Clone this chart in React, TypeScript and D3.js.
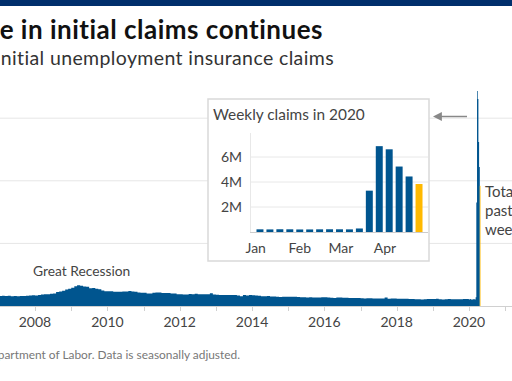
import React from "react";
import * as d3 from "d3";

// Monthly average initial claims (thousands), Jan 2007 – Dec 2019
const monthlyStart = "2007-01-01";
const monthlyClaims = [
  // 2007
  320, 330, 322, 325, 312, 318, 310, 322, 318, 330, 338, 345,
  // 2008
  335, 352, 368, 372, 372, 390, 398, 445, 465, 485, 525, 555,
  // 2009
  585, 632, 660, 645, 625, 612, 568, 572, 548, 532, 498, 475,
  // 2010
  475, 472, 458, 458, 458, 462, 462, 482, 462, 452, 432, 422,
  // 2011
  422, 402, 398, 422, 428, 428, 412, 412, 418, 402, 398, 378,
  // 2012
  378, 365, 368, 385, 378, 388, 372, 372, 372, 372, 405, 365,
  // 2013
  360, 355, 350, 350, 350, 350, 350, 332, 315, 352, 335, 352,
  // 2014
  340, 338, 325, 315, 310, 318, 305, 305, 298, 290, 298, 295,
  // 2015
  298, 295, 292, 285, 280, 280, 275, 278, 272, 268, 272, 278,
  // 2016
  282, 268, 262, 258, 272, 268, 262, 262, 258, 258, 252, 258,
  // 2017
  248, 242, 248, 248, 238, 242, 242, 242, 268, 232, 242, 238,
  // 2018
  232, 228, 228, 228, 222, 222, 218, 214, 210, 214, 222, 222,
  // 2019
  222, 228, 218, 208, 218, 222, 214, 214, 215, 218, 222, 226,
];

// Weekly initial claims in 2020 (thousands), week ending dates
const weeks2020 = [
  "2020-01-04", "2020-01-11", "2020-01-18", "2020-01-25", "2020-02-01",
  "2020-02-08", "2020-02-15", "2020-02-22", "2020-02-29", "2020-03-07",
  "2020-03-14", "2020-03-21", "2020-03-28", "2020-04-04", "2020-04-11",
  "2020-04-18", "2020-04-25",
];
const weeklyClaims2020 = [
  214, 207, 220, 216, 203, 205, 214, 219, 217, 211, 282, 3307, 6867, 6615,
  5237, 4442, 3839,
];

const yearTicks = [2008, 2010, 2012, 2014, 2016, 2018, 2020];
const mainGrid = [2000, 4000, 6000];
const insetTicks = [2000, 4000, 6000];
const insetTickLabels = ["2M", "4M", "6M"];
const monthTicks = ["2020-01-01", "2020-02-01", "2020-03-01", "2020-04-01"];
const monthLabels = ["Jan", "Feb", "Mar", "Apr"];

const BLUE = "#00558f";
const YELLOW = "#ffb900";
const FONT = "Lato, 'Open Sans', sans-serif";

export default function App() {
  const W = 512;
  const H = 381;
  const parse = d3.timeParse("%Y-%m-%d");

  // main chart scales
  const x = d3
    .scaleTime()
    .domain([new Date(2008, 0, 1), new Date(2020, 0, 1)])
    .range([35, 469]);
  const y = d3.scaleLinear().domain([0, 7000]).range([306, 306 - 7 * 31.3]);

  const m0 = parse(monthlyStart)!;
  type Pt = { date: Date; v: number };
  const pts: Pt[] = monthlyClaims.map((v, i) => ({
    date: d3.timeMonth.offset(m0, i),
    v,
  }));
  const wkStarts = weeks2020.map((d) => d3.timeDay.offset(parse(d)!, -6));
  const wkEnds = weeks2020.map((d) => d3.timeDay.offset(parse(d)!, 1));
  const nW = weeklyClaims2020.length;
  for (let i = 0; i < nW - 1; i++) pts.push({ date: wkStarts[i], v: weeklyClaims2020[i] });
  pts.push({ date: wkStarts[nW - 1], v: 0 });

  const area = d3
    .area<Pt>()
    .x((d) => x(d.date))
    .y0(y(0))
    .y1((d) => y(d.v))
    .curve(d3.curveStepAfter);

  const lastX0 = x(wkStarts[nW - 1]);
  const lastX1 = x(wkEnds[nW - 1]);

  const yearTickAll = d3.range(2007, 2022);

  // inset
  const ib = d3
    .scaleBand<string>()
    .domain(weeks2020)
    .range([255, 424])
    .paddingInner(0.3)
    .paddingOuter(0.15);
  const iy = d3.scaleLinear().domain([0, 6000]).range([232, 157]);
  const it = d3
    .scaleTime()
    .domain([parse(weeks2020[0])!, parse(weeks2020[nW - 1])!])
    .range([
      ib(weeks2020[0])! + ib.bandwidth() / 2,
      ib(weeks2020[nW - 1])! + ib.bandwidth() / 2,
    ]);

  return (
    <svg
      width={W}
      height={H}
      style={{ position: "absolute", left: 0, top: 0, background: "#fff" }}
      fontFamily={FONT}
    >
      <defs>
        <clipPath id="clip">
          <rect x={0} y={0} width={W} height={H} />
        </clipPath>
        <marker
          id="arrow"
          viewBox="0 0 10 10"
          refX="1"
          refY="5"
          markerWidth="6"
          markerHeight="6"
          orient="auto-start-reverse"
        >
          <path d="M0,0 L10,5 L0,10 z" fill="#888" />
        </marker>
      </defs>
      <rect x={0} y={0} width={W} height={6} fill="#002f6c" />
      <text
        x={323}
        y={39}
        textAnchor="end"
        fontSize={26}
        letterSpacing={0.5}
        fontWeight={700}
        fill="#111"
      >
        Record surge in initial claims continues
      </text>
      <text
        x={334}
        y={65}
        textAnchor="end"
        fontSize={19.5}
        letterSpacing={0.38}
        fill="#333"
      >
        Weekly initial unemployment insurance claims
      </text>

      <g clipPath="url(#clip)">
        {mainGrid.map((g) => (
          <line key={g} x1={0} x2={W} y1={y(g)} y2={y(g)} stroke="#e6e6e6" strokeWidth={1} />
        ))}
        <path d={area(pts) ?? ""} fill={BLUE} />
        <rect
          x={lastX0}
          y={y(weeklyClaims2020[nW - 1])}
          width={lastX1 - lastX0}
          height={y(0) - y(weeklyClaims2020[nW - 1])}
          fill={YELLOW}
        />
        <line x1={0} x2={W} y1={306.5} y2={306.5} stroke="#d0d0d0" strokeWidth={1} />
        {yearTickAll.map((yr) => {
          const xx = Math.round(x(new Date(yr, 0, 1))) + 0.5;
          return <line key={yr} x1={xx} x2={xx} y1={307} y2={311} stroke="#d0d0d0" />;
        })}
        {yearTicks.map((yr) => (
          <text
            key={yr}
            x={x(new Date(yr, 0, 1))}
            y={327}
            textAnchor="middle"
            fontSize={14}
            fill="#444"
          >
            {yr}
          </text>
        ))}
        <text x={33} y={276} fontSize={13.8} fill="#444">
          Great Recession
        </text>
        <text x={485} y={197} fontSize={15} fill="#444">
          Total claims
        </text>
        <text x={485} y={216} fontSize={15} fill="#444">
          past six
        </text>
        <text x={485} y={235} fontSize={15} fill="#444">
          weeks: 30.3M
        </text>
        <line
          x1={467}
          x2={441}
          y1={116.5}
          y2={116.5}
          stroke="#888"
          strokeWidth={1.5}
          markerEnd="url(#arrow)"
        />
        <text x={240} y={359} textAnchor="end" fontSize={11.9} fill="#777">
          Source: U.S. Department of Labor. Data is seasonally adjusted.
        </text>
      </g>

      {/* inset */}
      <rect x={208} y={99} width={221} height={162} fill="#fff" stroke="#d9d9d9" strokeWidth={1.5} />
      <text x={213} y={120} fontSize={15.4} fill="#444">
        Weekly claims in 2020
      </text>
      {insetTicks.map((t, i) => (
        <g key={t}>
          <line x1={250} x2={428} y1={iy(t)} y2={iy(t)} stroke="#e8e8e8" />
          <text x={242} y={iy(t) + 5} textAnchor="end" fontSize={14} fill="#444">
            {insetTickLabels[i]}
          </text>
        </g>
      ))}
      <line x1={250.5} x2={250.5} y1={133} y2={232} stroke="#e8e8e8" />
      {weeks2020.map((w, i) => (
        <rect
          key={w}
          x={ib(w)}
          y={iy(weeklyClaims2020[i])}
          width={ib.bandwidth()}
          height={iy(0) - iy(weeklyClaims2020[i])}
          fill={i === nW - 1 ? YELLOW : BLUE}
        />
      ))}
      <line x1={250} x2={428} y1={232.5} y2={232.5} stroke="#ccc" />
      {monthTicks.map((m, i) => (
        <text
          key={m}
          x={it(parse(m)!)}
          y={253}
          textAnchor="middle"
          fontSize={14}
          fill="#444"
        >
          {monthLabels[i]}
        </text>
      ))}
    </svg>
  );
}
